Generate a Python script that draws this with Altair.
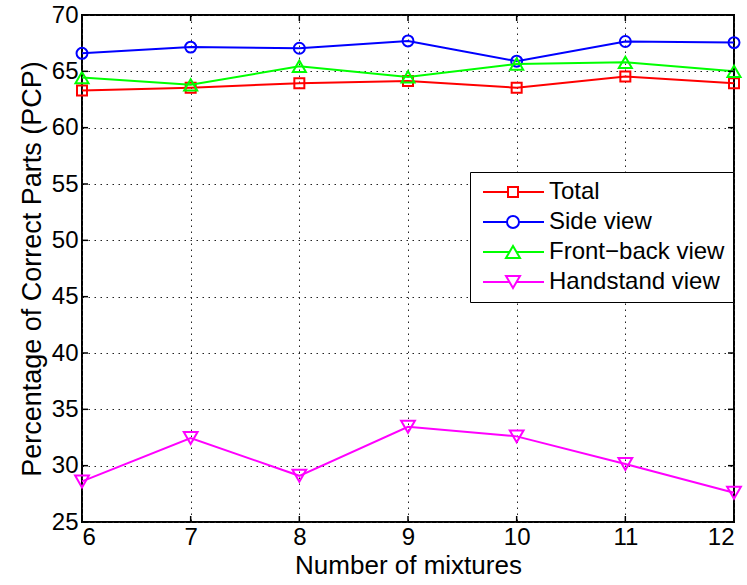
import altair as alt
import pandas as pd

# Number of mixtures on the x axis
mixtures = [6, 7, 8, 9, 10, 11, 12]

# Percentage of correct parts per view
total = [63.3, 63.55, 63.95, 64.15, 63.55, 64.55, 63.95]
side_view = [66.6, 67.15, 67.05, 67.7, 65.9, 67.65, 67.55]
front_back_view = [64.45, 63.8, 65.45, 64.5, 65.65, 65.8, 65.0]
handstand_view = [28.6, 32.45, 29.1, 33.45, 32.6, 30.15, 27.6]

series_names = ["Total", "Side view", "Front\u2212back view", "Handstand view"]
series_values = [total, side_view, front_back_view, handstand_view]
series_colors = ["#ff0000", "#0000ff", "#00ff00", "#ff00ff"]
series_shapes = ["square", "circle", "triangle-up", "triangle-down"]
series_sizes = [100, 120, 170, 190]

y_ticks = [25, 30, 35, 40, 45, 50, 55, 60, 65, 70]

# Legend glyphs: a line segment with the series marker in the middle
legend_paths = [
    "M-0.7,0L1.8,0M2.8,0L5.4,0M1.8,-0.5L2.8,-0.5L2.8,0.5L1.8,0.5Z",
    "M-0.7,0L1.7,0M2.9,0L5.4,0M1.7,0A0.6,0.6,0,1,1,2.9,0A0.6,0.6,0,1,1,1.7,0Z",
    "M-0.7,0L1.95,0M2.65,0L5.4,0M2.3,-0.6L1.6,0.6L3.0,0.6Z",
    "M-0.7,0L1.95,0M2.65,0L5.4,0M2.3,0.6L1.6,-0.6L3.0,-0.6Z",
]

rows = []
for name, vals in zip(series_names, series_values):
    for m, v in zip(mixtures, vals):
        rows.append({"mixtures": m, "pcp": v, "series": name})
df = pd.DataFrame(rows)

PLOT_W, PLOT_H = 652, 507
FONT = "Liberation Sans"

x_scale = alt.Scale(domain=[6, 12], nice=False, zero=False)
y_scale = alt.Scale(domain=[25, 70], nice=False, zero=False)

x_enc = alt.X(
    "mixtures:Q", scale=x_scale,
    axis=alt.Axis(values=mixtures, format="d", title="Number of mixtures"),
)
y_enc = alt.Y(
    "pcp:Q", scale=y_scale,
    axis=alt.Axis(values=y_ticks, format="d", title="Percentage of Correct Parts (PCP)"),
)

# One line and one marker layer per series
series_layers = []
for i, (name, color, shape, size) in enumerate(
    zip(series_names, series_colors, series_shapes, series_sizes)
):
    base = alt.Chart(df).transform_filter(alt.datum.series == name)
    line = base.mark_line(color=color, strokeWidth=2).encode(
        x=x_enc if i == 0 else alt.X("mixtures:Q", scale=x_scale),
        y=y_enc if i == 0 else alt.Y("pcp:Q", scale=y_scale),
    )
    pts = base.mark_point(
        shape=shape, size=size, filled=False, color=color, strokeWidth=2, opacity=1
    ).encode(
        x=alt.X("mixtures:Q", scale=x_scale),
        y=alt.Y("pcp:Q", scale=y_scale),
    )
    series_layers += [line, pts]

legend_props = dict(
    title=None, orient="none", legendX=388, legendY=157,
    symbolSize=400, symbolStrokeWidth=2, symbolOpacity=1,
    labelFontSize=24, labelFont=FONT, labelColor="black", labelLimit=400,
    labelOffset=47, rowPadding=6, padding=8,
    fillColor="white", strokeColor="black",
)

# Invisible marks that carry the legend
legend_layer = alt.Chart(df).mark_point(filled=False, strokeWidth=2, opacity=0).encode(
    x=alt.X("mixtures:Q", scale=x_scale),
    y=alt.Y("pcp:Q", scale=y_scale),
    color=alt.Color(
        "series:N",
        scale=alt.Scale(domain=series_names, range=series_colors),
        legend=alt.Legend(**legend_props),
    ),
    shape=alt.Shape(
        "series:N",
        scale=alt.Scale(domain=series_names, range=legend_paths),
        legend=alt.Legend(**legend_props),
    ),
)

# Inward tick marks on all four sides of the box
x_tick_df = pd.DataFrame({"mixtures": mixtures})
y_tick_df = pd.DataFrame({"pcp": y_ticks})
tick_style = dict(color="black", strokeWidth=1.5)

ticks_bottom = alt.Chart(x_tick_df).mark_rule(**tick_style).encode(
    x=alt.X("mixtures:Q", scale=x_scale), y=alt.value(PLOT_H), y2=alt.value(PLOT_H - 6)
)
ticks_top = alt.Chart(x_tick_df).mark_rule(**tick_style).encode(
    x=alt.X("mixtures:Q", scale=x_scale), y=alt.value(0), y2=alt.value(6)
)
ticks_left = alt.Chart(y_tick_df).mark_rule(**tick_style).encode(
    y=alt.Y("pcp:Q", scale=y_scale), x=alt.value(0), x2=alt.value(6)
)
ticks_right = alt.Chart(y_tick_df).mark_rule(**tick_style).encode(
    y=alt.Y("pcp:Q", scale=y_scale), x=alt.value(PLOT_W - 6), x2=alt.value(PLOT_W)
)

chart = alt.layer(
    *series_layers, ticks_bottom, ticks_top, ticks_left, ticks_right, legend_layer
).properties(
    width=PLOT_W, height=PLOT_H,
    autosize=alt.AutoSizeParams(type="none"),
    padding={"left": 82, "top": 15, "right": 13, "bottom": 63},
    background="white",
).configure_view(
    stroke="black", strokeWidth=2,
).configure_axis(
    domain=False, ticks=False, tickSize=0,
    grid=True, gridColor="#222222", gridDash=[1.5, 4.5], gridWidth=1, gridOpacity=1,
    labelFont=FONT, labelFontSize=24, labelColor="black",
    titleFont=FONT, titleColor="black", titleFontWeight="normal",
).configure_axisX(
    labelPadding=3, titleFontSize=26, titlePadding=3,
).configure_axisY(
    labelPadding=4, titleFontSize=27, titlePadding=5,
)

chart.save("out.html", embed_options={"renderer": "svg", "actions": False})
